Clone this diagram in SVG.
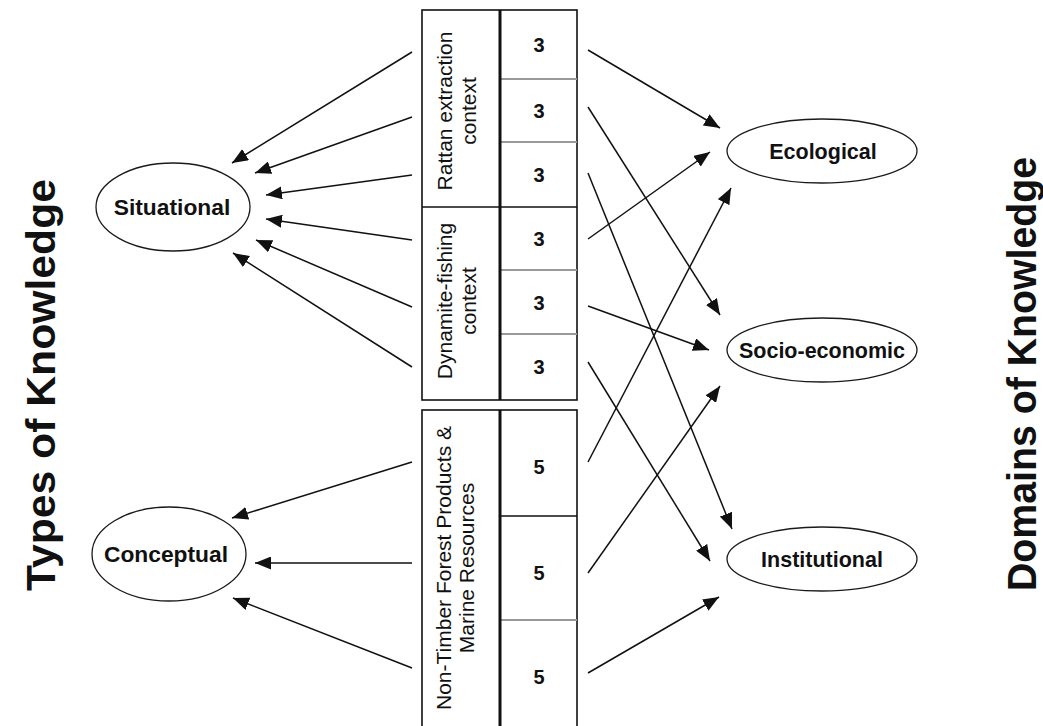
<svg xmlns="http://www.w3.org/2000/svg" width="1043" height="726" viewBox="0 0 1043 726">
  <style>
    .bg { fill: #ffffff; }
    .node ellipse { fill: #ffffff; stroke: #1a1a1a; stroke-width: 1.3; }
    .lbl { font-family: "Liberation Sans", Arial, sans-serif; font-weight: bold; font-size: 21.5px; fill: #111; text-anchor: middle; }
    .lbl.big { font-size: 22.8px; }
    .axis { font-family: "Liberation Sans", Arial, sans-serif; font-weight: bold; font-size: 40px; fill: #111; text-anchor: middle; }
    .ctx { font-family: "Liberation Sans", Arial, sans-serif; font-size: 21px; fill: #111; text-anchor: middle; }
    .num { font-family: "Liberation Sans", Arial, sans-serif; font-weight: bold; font-size: 20px; fill: #111; text-anchor: middle; }
    .box { fill: #ffffff; stroke: #111; stroke-width: 1.6; }
    .divider { stroke: #111; stroke-width: 3; }
    .row { stroke: #999; stroke-width: 2; }
    .rowdark { stroke: #111; stroke-width: 1.6; }
    .conn line { stroke: #111; stroke-width: 1.5; marker-end: url(#arrow); }
  </style>
  <defs>
    <marker id="arrow" markerUnits="userSpaceOnUse" markerWidth="17" markerHeight="13" refX="16" refY="6.5" orient="auto">
      <path d="M0,0 L16,6.5 L0,13 z" fill="#111"/>
    </marker>
  </defs>

  <rect class="bg" x="0" y="0" width="1043" height="726"/>

  <!-- axis titles -->
  <text class="axis" transform="translate(55,385) rotate(-90)" textLength="412" lengthAdjust="spacingAndGlyphs">Types of Knowledge</text>
  <text class="axis" transform="translate(1036,374) rotate(-90)" textLength="434" lengthAdjust="spacingAndGlyphs">Domains of Knowledge</text>

  <!-- context table: upper block (rattan + dynamite fishing) -->
  <g id="table-upper">
    <rect class="box" x="422" y="10" width="155" height="390"/>
    <line class="rowdark" x1="422" y1="207" x2="500" y2="207"/>
    <line class="rowdark" x1="500" y1="207" x2="577" y2="207"/>
    <line class="row" x1="500" y1="79" x2="577" y2="79"/>
    <line class="row" x1="500" y1="142" x2="577" y2="142"/>
    <line class="row" x1="500" y1="270" x2="577" y2="270"/>
    <line class="row" x1="500" y1="334" x2="577" y2="334"/>
    <line class="divider" x1="500" y1="10" x2="500" y2="400"/>
  </g>
  <g id="ctx-rattan">
    <text class="ctx" transform="translate(452,111) rotate(-90)">Rattan extraction</text>
    <text class="ctx" transform="translate(476,111) rotate(-90)">context</text>
    <text class="num" x="539" y="52">3</text>
    <text class="num" x="539" y="118">3</text>
    <text class="num" x="539" y="181.5">3</text>
  </g>
  <g id="ctx-dynamite">
    <text class="ctx" transform="translate(452,301) rotate(-90)">Dynamite-fishing</text>
    <text class="ctx" transform="translate(476,301) rotate(-90)">context</text>
    <text class="num" x="539" y="245.5">3</text>
    <text class="num" x="539" y="309.5">3</text>
    <text class="num" x="539" y="374">3</text>
  </g>

  <!-- context table: lower block (NTFP & marine resources) -->
  <g id="ctx-ntfp">
    <rect class="box" x="422" y="410" width="155" height="330"/>
    <line class="rowdark" x1="500" y1="516" x2="577" y2="516"/>
    <line class="row" x1="500" y1="620" x2="577" y2="620"/>
    <line class="divider" x1="500" y1="410" x2="500" y2="740"/>
    <text class="ctx" transform="translate(451,568) rotate(-90)">Non-Timber Forest Products &amp;</text>
    <text class="ctx" transform="translate(474,568) rotate(-90)">Marine Resources</text>
    <text class="num" x="539" y="473.5">5</text>
    <text class="num" x="539" y="579.5">5</text>
    <text class="num" x="539" y="683.5">5</text>
  </g>

  <!-- knowledge types -->
  <g id="situational" class="node">
    <ellipse cx="173" cy="207" rx="77" ry="44"/>
    <text class="lbl big" x="172" y="215">Situational</text>
  </g>
  <g id="conceptual" class="node">
    <ellipse cx="169" cy="554" rx="77" ry="47"/>
    <text class="lbl big" x="166" y="562">Conceptual</text>
  </g>

  <!-- knowledge domains -->
  <g id="ecological" class="node">
    <ellipse cx="822" cy="151" rx="95" ry="32"/>
    <text class="lbl" x="823" y="159">Ecological</text>
  </g>
  <g id="socio-economic" class="node">
    <ellipse cx="822" cy="350" rx="95" ry="32"/>
    <text class="lbl" x="822" y="358">Socio-economic</text>
  </g>
  <g id="institutional" class="node">
    <ellipse cx="822" cy="559" rx="95" ry="32"/>
    <text class="lbl" x="822" y="567">Institutional</text>
  </g>

  <!-- connectors -->
  <g id="connectors" class="conn">
    <!-- contexts to situational -->
    <line x1="412" y1="52" x2="232" y2="163"/>
    <line x1="412" y1="117" x2="255" y2="173"/>
    <line x1="412" y1="175" x2="266" y2="195"/>
    <line x1="412" y1="240" x2="266" y2="219"/>
    <line x1="412" y1="307" x2="256" y2="240"/>
    <line x1="412" y1="367" x2="233" y2="253"/>
    <!-- NTFP to conceptual -->
    <line x1="412" y1="462" x2="232" y2="518"/>
    <line x1="412" y1="563" x2="255" y2="563"/>
    <line x1="412" y1="668" x2="233" y2="598"/>
    <!-- rows to domains -->
    <line x1="588" y1="50" x2="720" y2="128"/>
    <line x1="588" y1="107" x2="720" y2="315"/>
    <line x1="588" y1="173" x2="732" y2="529"/>
    <line x1="588" y1="239" x2="710" y2="152"/>
    <line x1="588" y1="306" x2="709" y2="350"/>
    <line x1="588" y1="362" x2="710" y2="561"/>
    <line x1="588" y1="462" x2="731" y2="188"/>
    <line x1="588" y1="573" x2="720" y2="386"/>
    <line x1="588" y1="673" x2="719" y2="597"/>
  </g>
</svg>
